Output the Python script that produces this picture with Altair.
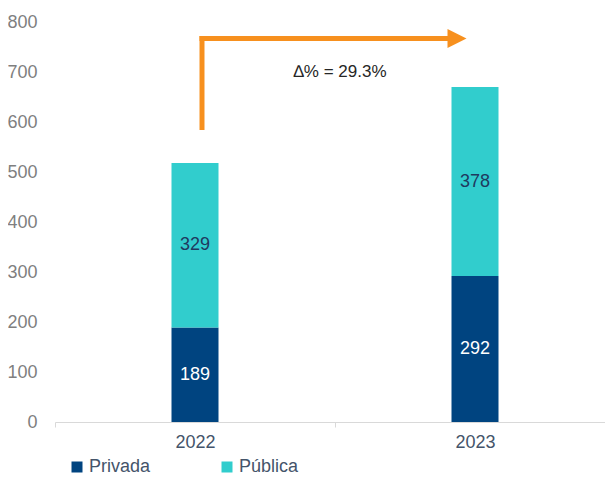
import altair as alt
import pandas as pd

years = ["2022", "2023"]
series = ["Privada", "Pública"]
privada = [189, 292]
publica = [329, 378]
colors = ["#004480", "#31CDCD"]
label_colors = ["#ffffff", "#1f3a5f"]
orange = "#F7901E"

note_text = "∆% = 29.3%"
note_y = [700]
arrow_bottom = [584]
arrow_top = [772]
arrow_level = [767]

rows = []
for i, y in enumerate(years):
    rows.append({"year": y, "serie": "Privada", "value": privada[i], "ord": 0})
    rows.append({"year": y, "serie": "Pública", "value": publica[i], "ord": 1})
df = pd.DataFrame(rows)

FONT = "Liberation Sans"

x_enc = alt.X(
    "year:N",
    scale=alt.Scale(domain=years, paddingInner=0, paddingOuter=0, range=[0, 560]),
    axis=alt.Axis(
        title=None, labelAngle=0, tickBand="extent", domainColor="#d9d9d9",
        tickColor="#d9d9d9", tickSize=5, labelFontSize=18, labelColor="#44546a",
        labelPadding=6, labelFont=FONT, domainWidth=1,
    ),
)

bars = alt.Chart(df).mark_bar(size=47).encode(
    x=x_enc,
    y=alt.Y(
        "value:Q",
        stack="zero",
        scale=alt.Scale(domain=[0, 800], nice=False),
        axis=alt.Axis(
            title=None, values=list(range(0, 801, 100)), grid=False, domain=False,
            ticks=False, labelFontSize=18, labelColor="#7f7f7f", labelPadding=18,
            labelFont=FONT,
        ),
    ),
    color=alt.Color(
        "serie:N",
        scale=alt.Scale(domain=series, range=colors),
        legend=alt.Legend(
            title=None, orient="none", legendX=13, legendY=436, direction="horizontal",
            symbolType="square", symbolSize=121, symbolStrokeWidth=0,
            labelFontSize=18, labelColor="#44546a", labelFont=FONT,
            columnPadding=67, labelOffset=3,
        ),
    ),
    order=alt.Order("ord:Q"),
)

labels = alt.Chart(df).transform_stack(
    stack="value", as_=["v0", "v1"], groupby=["year"], sort=[alt.SortField("ord")]
).transform_calculate(mid="(datum.v0 + datum.v1) / 2").mark_text(
    fontSize=18, font=FONT
).encode(
    x=alt.X("year:N"),
    y=alt.Y("mid:Q"),
    text=alt.Text("value:Q"),
    color=alt.Color("serie:N", scale=alt.Scale(domain=series, range=label_colors), legend=None),
)

vdf = pd.DataFrame({"year": [years[0]], "y1": arrow_bottom, "y2": arrow_top})
vert = alt.Chart(vdf).mark_rule(color=orange, strokeWidth=5, xOffset=7).encode(
    x=alt.X("year:N"), y="y1:Q", y2="y2:Q"
)

hdf = pd.DataFrame({"year": [years[0]], "year2": [years[1]], "y": arrow_level})
horiz = alt.Chart(hdf).mark_rule(color=orange, strokeWidth=5, xOffset=4.5, x2Offset=-27).encode(
    x=alt.X("year:N"), x2="year2:N", y="y:Q"
)

adf = pd.DataFrame({"year": [years[1]], "y": arrow_level})
head = alt.Chart(adf).mark_point(
    shape="M-1,-1L1,0L-1,1Z", filled=True, color=orange, opacity=1, size=361, xOffset=-18
).encode(x=alt.X("year:N"), y="y:Q")

ndf = pd.DataFrame({"year": [years[0]], "y": note_y, "t": [note_text]})
note = alt.Chart(ndf).mark_text(fontSize=17, font=FONT, color="#262626", xOffset=145).encode(
    x=alt.X("year:N"), y="y:Q", text="t:N"
)

chart = alt.layer(bars, labels, vert, horiz, head, note).resolve_scale(color="independent").properties(
    width=550, height=400,
    autosize=alt.AutoSizeParams(type="none"),
    padding={"left": 47, "top": 14, "right": 0, "bottom": 56},
).configure_view(stroke=None)

chart.save("out.html", embed_options={"renderer": "svg", "actions": False})
